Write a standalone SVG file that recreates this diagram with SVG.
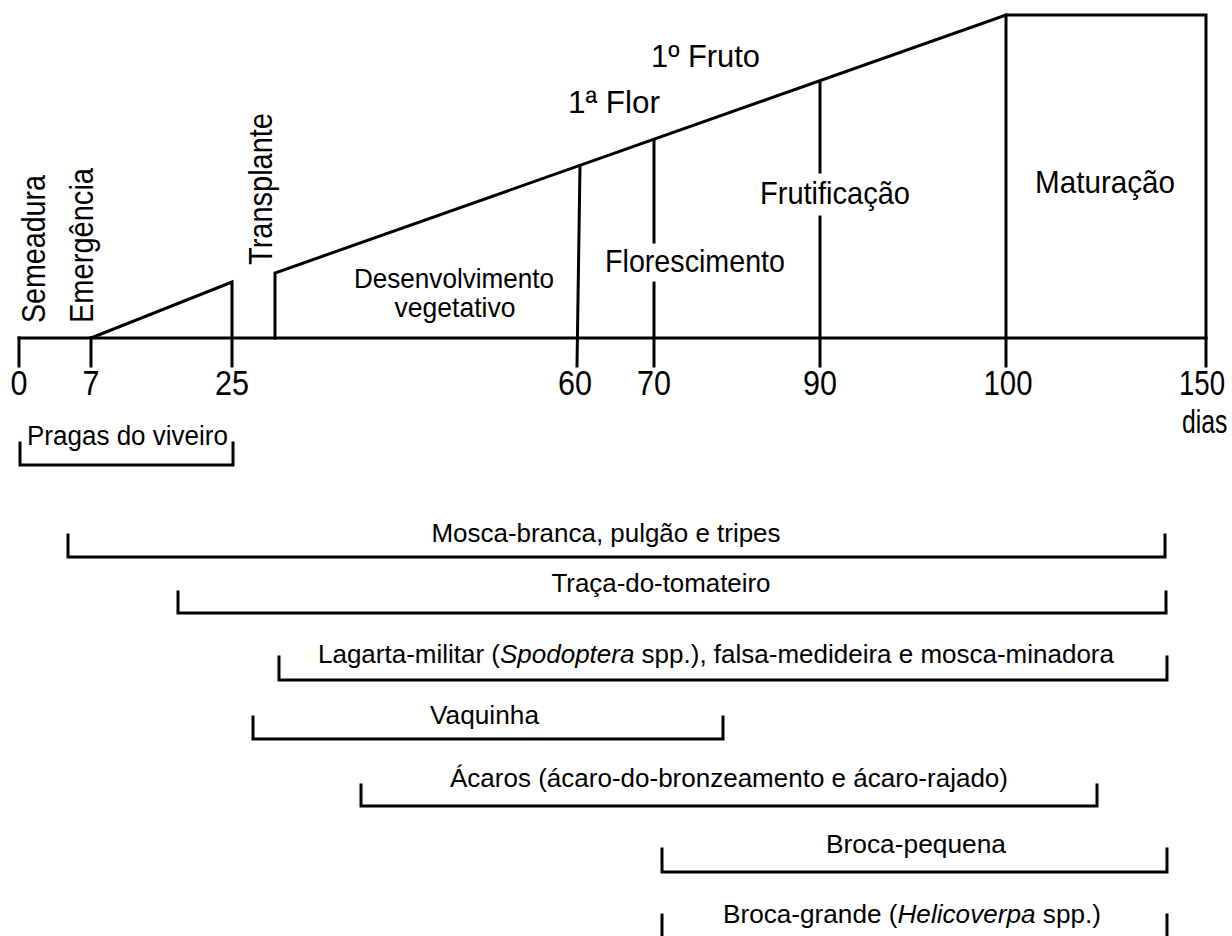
<svg xmlns="http://www.w3.org/2000/svg" width="1232" height="936" viewBox="0 0 1232 936">
<style>
  .ln { fill: none; stroke: #000; stroke-width: 3; stroke-linecap: square; stroke-linejoin: miter; }
  .t { font-family: "Liberation Sans", Arial, sans-serif; fill: #000; }
  .big { font-size: 32px; }
  .vt { font-size: 33px; }
  .mid { font-size: 28px; }
  .num { font-size: 35px; text-anchor: middle; }
  .pest { font-size: 25px; }
  .c { text-anchor: middle; }
</style>
<rect width="1232" height="936" fill="#fff"/>

<g id="axis">
  <path class="ln" d="M19,338 H1206"/>
  <path class="ln" d="M19,338 V366 M91,338 V366"/>
</g>

<g id="phases">
  <path class="ln" d="M91,338 L232,282 V366"/>
  <path class="ln" d="M275,338 V273 L1006,15 H1206 V366"/>
  <path class="ln" d="M580,166 L577,366"/>
  <path class="ln" d="M654,140 V242 M654,283 V366"/>
  <path class="ln" d="M820,82 V172 M820,217 V366"/>
  <path class="ln" d="M1006,15 V366"/>
</g>

<g id="event-labels">
  <text class="t vt" transform="translate(45,323) rotate(-90)" textLength="148" lengthAdjust="spacingAndGlyphs">Semeadura</text>
  <text class="t vt" transform="translate(93,323) rotate(-90)" textLength="155" lengthAdjust="spacingAndGlyphs">Emergência</text>
  <text class="t vt" transform="translate(272,265) rotate(-90)" textLength="152" lengthAdjust="spacingAndGlyphs">Transplante</text>
  <text class="t big" x="651" y="67" textLength="109" lengthAdjust="spacingAndGlyphs">1º  Fruto</text>
  <text class="t big" x="568" y="113" textLength="92" lengthAdjust="spacingAndGlyphs">1ª  Flor</text>
</g>

<g id="phase-labels">
  <text class="t mid c" x="454" y="288" textLength="200" lengthAdjust="spacingAndGlyphs">Desenvolvimento</text>
  <text class="t mid c" x="455" y="317" textLength="121" lengthAdjust="spacingAndGlyphs">vegetativo</text>
  <text class="t big" x="605" y="272" textLength="180" lengthAdjust="spacingAndGlyphs">Florescimento</text>
  <text class="t big" x="760" y="204" textLength="150" lengthAdjust="spacingAndGlyphs">Frutificação</text>
  <text class="t big" x="1035" y="193" textLength="140" lengthAdjust="spacingAndGlyphs">Maturação</text>
</g>

<g id="axis-numbers">
  <text class="t num" x="19" y="395" textLength="17" lengthAdjust="spacingAndGlyphs">0</text>
  <text class="t num" x="91" y="395" textLength="17" lengthAdjust="spacingAndGlyphs">7</text>
  <text class="t num" x="232" y="395" textLength="34" lengthAdjust="spacingAndGlyphs">25</text>
  <text class="t num" x="575" y="395" textLength="34" lengthAdjust="spacingAndGlyphs">60</text>
  <text class="t num" x="654" y="395" textLength="34" lengthAdjust="spacingAndGlyphs">70</text>
  <text class="t num" x="820" y="395" textLength="34" lengthAdjust="spacingAndGlyphs">90</text>
  <text class="t num" x="1008" y="395" textLength="49" lengthAdjust="spacingAndGlyphs">100</text>
  <text class="t num" transform="translate(1202,395) scale(0.79,1)">150</text>
  <text class="t" transform="translate(1182,433) scale(0.75,1)" font-size="33">dias</text>
</g>

<g id="pest-pragas-viveiro">
  <path class="ln" d="M20,443 V465 H233 V443"/>
  <text class="t" x="27" y="445" font-size="27" textLength="201" lengthAdjust="spacingAndGlyphs">Pragas do viveiro</text>
</g>
<g id="pest-mosca">
  <path class="ln" d="M68,535 V557 H1165 V535"/>
  <text class="t pest c" x="606" y="542" textLength="349" lengthAdjust="spacingAndGlyphs">Mosca-branca, pulgão e tripes</text>
</g>
<g id="pest-traca">
  <path class="ln" d="M178,592 V613 H1166 V592"/>
  <text class="t pest c" x="661" y="592" textLength="219" lengthAdjust="spacingAndGlyphs">Traça-do-tomateiro</text>
</g>
<g id="pest-lagarta">
  <path class="ln" d="M279,657 V680 H1167 V657"/>
  <text class="t pest" x="318" y="663" textLength="796" lengthAdjust="spacingAndGlyphs">Lagarta-militar (<tspan font-style="italic">Spodoptera</tspan> spp.), falsa-medideira e mosca-minadora</text>
</g>
<g id="pest-vaquinha">
  <path class="ln" d="M253,717 V739 H723 V717"/>
  <text class="t pest" x="430" y="724" textLength="109" lengthAdjust="spacingAndGlyphs">Vaquinha</text>
</g>
<g id="pest-acaros">
  <path class="ln" d="M361,785 V806 H1097 V785"/>
  <text class="t pest" x="450" y="787" textLength="558" lengthAdjust="spacingAndGlyphs">Ácaros (ácaro-do-bronzeamento e ácaro-rajado)</text>
</g>
<g id="pest-broca-pequena">
  <path class="ln" d="M662,849 V872 H1167 V849"/>
  <text class="t pest" x="826" y="853" textLength="180" lengthAdjust="spacingAndGlyphs">Broca-pequena</text>
</g>
<g id="pest-broca-grande">
  <path class="ln" d="M662,915 V940 M1167,915 V940"/>
  <text class="t pest" x="723" y="923" textLength="378" lengthAdjust="spacingAndGlyphs">Broca-grande (<tspan font-style="italic">Helicoverpa</tspan> spp.)</text>
</g>
</svg>
